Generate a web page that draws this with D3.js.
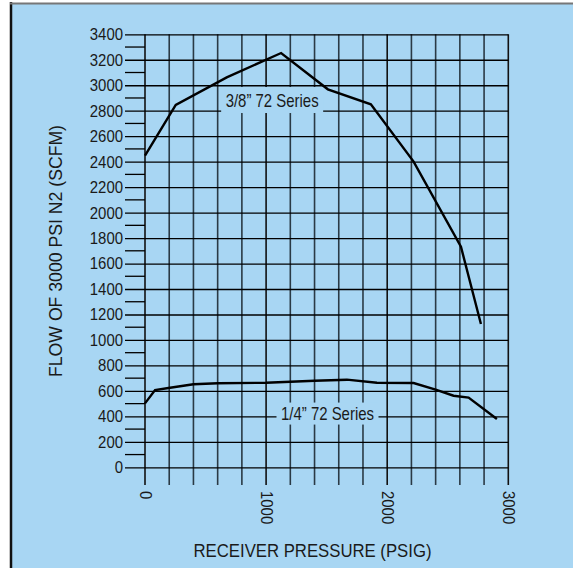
<!DOCTYPE html>
<html><head><meta charset="utf-8">
<script src="https://cdn.jsdelivr.net/npm/d3@7"></script>
<style>
html,body{margin:0;padding:0;background:#fff;}
svg{display:block;}
text{font-family:"Liberation Sans",Arial,sans-serif;fill:#1a1a1a;}
</style></head>
<body>
<svg id="c" width="573" height="568"></svg>
<script>
// ---- data ----
const seriesNames = ["3/8\u201D 72 Series", "1/4\u201D 72 Series"];
const large_x = [0, 254, 675, 1124, 1510, 1865, 2218, 2609, 2774];
const large_y = [2447, 2845, 3062, 3253, 2968, 2850, 2400, 1732, 1125];
const small_x = [0, 83, 207, 400, 600, 1000, 1400, 1667, 1915, 2218, 2400, 2548, 2672, 2906];
const small_y = [502, 607, 625, 652, 660, 664, 680, 688, 664, 662, 610, 562, 547, 379];
const yTickLabels = [0,200,400,600,800,1000,1200,1400,1600,1800,2000,2200,2400,2600,2800,3000,3200,3400];
const xTickLabels = [0,1000,2000,3000];
const xGridValues = d3.range(0, 3001, 200);
const yMinorValues = d3.range(100, 3400, 200);
const xTitle = "RECEIVER PRESSURE (PSIG)";
const yTitle = "FLOW OF 3000 PSI N2 (SCFM)";
// label anchor positions in data units
const labelPos = [[1050, 2884], [1507, 422]];

const svg = d3.select("#c");
const BLUE = "#a8d6f3";
// frame
svg.append("rect").attr("x",12).attr("y",4).attr("width",561).attr("height",564).attr("fill",BLUE);
svg.append("line").attr("x1",11).attr("x2",11).attr("y1",2).attr("y2",568).attr("stroke","#111").attr("stroke-width",2.5);
svg.append("line").attr("x1",10).attr("x2",573).attr("y1",3.5).attr("y2",3.5).attr("stroke","#777").attr("stroke-width",2);

const x = d3.scaleLinear().domain([0,3000]).range([145,508.3]);
const y = d3.scaleLinear().domain([0,3400]).range([467.3,34.3]);

// vertical grid (extending below axis)
svg.append("g").selectAll("line").data(xGridValues).join("line")
  .attr("x1",d=>x(d)).attr("x2",d=>x(d)).attr("y1",y(3400)).attr("y2",485)
  .attr("stroke",d=>d%1000===0?"#111":"#2a3a45").attr("stroke-width",1.6);

// y axis with major ticks extended as grid
const yAxis = d3.axisLeft(y).tickValues(yTickLabels).tickSizeInner(20).tickSizeOuter(0).tickPadding(2).tickFormat(d3.format("d"));
const gy = svg.append("g").attr("transform","translate(125,0)").call(yAxis);
gy.select(".domain").remove();
gy.selectAll(".tick line").attr("x1",0).attr("x2",x(3000)-125).attr("stroke","#000").attr("stroke-width",1.3);
gy.selectAll(".tick text").attr("x",-2).attr("font-size","17px").attr("fill","#1a1a1a").style("font-family",null)
  .attr("textLength",function(){return 8.3*this.textContent.length;}).attr("lengthAdjust","spacingAndGlyphs");
// minor ticks
svg.append("g").selectAll("line").data(yMinorValues).join("line")
  .attr("x1",125).attr("x2",x(0)).attr("y1",d=>y(d)).attr("y2",d=>y(d)).attr("stroke","#000").attr("stroke-width",1.3);

// x axis labels (rotated)
const xAxis = d3.axisBottom(x).tickValues(xTickLabels).tickSize(0).tickFormat(d3.format("d"));
const gx = svg.append("g").attr("transform","translate(0,491)").call(xAxis);
gx.select(".domain").remove();
gx.selectAll(".tick text").attr("transform","rotate(90)").attr("x",0).attr("y",0).attr("dy","0.35em")
  .attr("text-anchor","start").attr("font-size","17px").attr("fill","#1a1a1a").style("font-family",null)
  .attr("textLength",function(){return 8.3*this.textContent.length;}).attr("lengthAdjust","spacingAndGlyphs");

// series labels with background boxes (under the curves)
const boxH = [26, 22];
seriesNames.forEach((name,i)=>{
  const g = svg.append("g");
  const cx = x(labelPos[i][0]), cy = y(labelPos[i][1]);
  g.append("text").attr("x",cx).attr("y",cy).attr("dy","0.36em").attr("text-anchor","middle")
    .attr("font-size","19px").attr("textLength",93).attr("lengthAdjust","spacingAndGlyphs")
    .attr("fill","#1c2b38").text(name);
  g.insert("rect","text").attr("x",cx-51).attr("y",cy-boxH[i]/2).attr("width",102).attr("height",boxH[i]).attr("fill",BLUE);
});

// curves
const line = d3.line().x(d=>x(d[0])).y(d=>y(d[1]));
const curves = [d3.zip(large_x, large_y), d3.zip(small_x, small_y)];
svg.append("g").selectAll("path").data(curves).join("path")
  .attr("d",line).attr("fill","none").attr("stroke","#000").attr("stroke-width",2.4).attr("stroke-linejoin","miter");

// titles
svg.append("text").attr("x",312.5).attr("y",557).attr("text-anchor","middle").attr("font-size","19px")
  .attr("textLength",238).attr("lengthAdjust","spacingAndGlyphs").text(xTitle);
svg.append("text").attr("transform","translate(62,251) rotate(-90)").attr("text-anchor","middle").attr("font-size","19px")
  .attr("textLength",252).attr("lengthAdjust","spacingAndGlyphs").text(yTitle);
</script>
</body></html>
